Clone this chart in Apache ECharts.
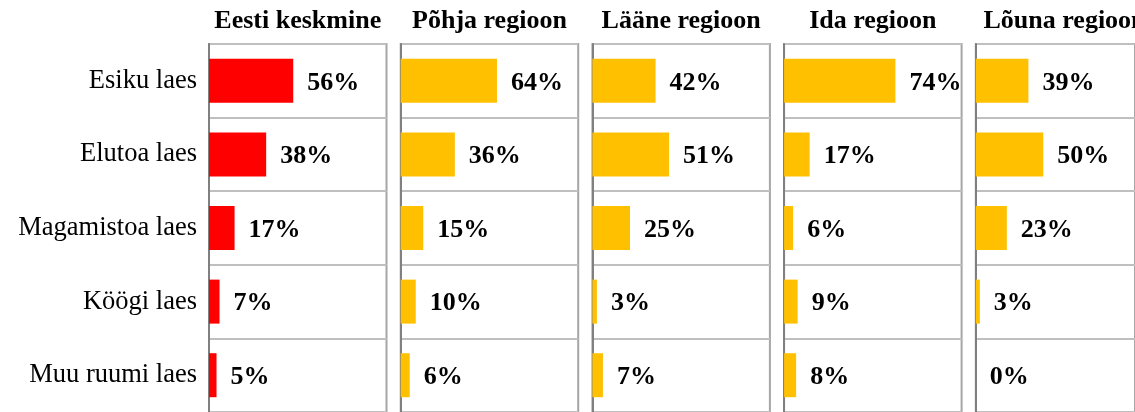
<!DOCTYPE html>
<html>
<head>
<meta charset="utf-8">
<script src="https://cdn.jsdelivr.net/npm/echarts@6/dist/echarts.min.js"></script>
<style>
html,body{margin:0;padding:0;background:#fff;}
#chart{width:1135px;height:412px;}
</style>
</head>
<body>
<div id="chart"></div>
<script>
const categories = ['Esiku laes', 'Elutoa laes', 'Magamistoa laes', 'Köögi laes', 'Muu ruumi laes'];
const panelTitles = ['Eesti keskmine', 'Põhja regioon', 'Lääne regioon', 'Ida regioon', 'Lõuna regioon'];
const eestiKeskmine = [56, 38, 17, 7, 5];
const pohjaRegioon = [64, 36, 15, 10, 6];
const laaneRegioon = [42, 51, 25, 3, 7];
const idaRegioon = [74, 17, 6, 9, 8];
const lounaRegioon = [39, 50, 23, 3, 0];
const panelValues = [eestiKeskmine, pohjaRegioon, laaneRegioon, idaRegioon, lounaRegioon];
const panelColors = ['#FF0000', '#FFC000', '#FFC000', '#FFC000', '#FFC000'];

const FONT = '"Liberation Serif", "Times New Roman", serif';
const panelLeft0 = 209, panelStep = 191.7, panelWidth = 177.5;

const grids = [], xAxes = [], yAxes = [], series = [], titles = [];
panelValues.forEach((vals, i) => {
  const left = panelLeft0 + i * panelStep;
  grids.push({
    left: left, top: 44, width: panelWidth, height: 370,
    show: true, borderColor: '#a6a6a6', borderWidth: 2, backgroundColor: 'transparent'
  });
  xAxes.push({
    type: 'value', gridIndex: i, min: 0, max: 118,
    axisLabel: {show: false}, axisTick: {show: false}, axisLine: {show: false}, splitLine: {show: false}
  });
  yAxes.push({
    type: 'category', gridIndex: i, data: categories, inverse: true,
    axisTick: {show: false},
    axisLine: {show: true, lineStyle: {color: '#808080', width: 2}},
    splitLine: {show: true, lineStyle: {color: '#bfbfbf', width: 2}},
    axisLabel: {show: i === 0, margin: 12, color: '#000', fontFamily: FONT, fontSize: 26.5}
  });
  series.push({
    type: 'bar', xAxisIndex: i, yAxisIndex: i, data: vals,
    barWidth: 44, itemStyle: {color: panelColors[i]},
    label: {show: true, position: 'right', distance: 14, formatter: '{c}%', offset: [0, 2],
      color: '#000', fontFamily: FONT, fontSize: 26, fontWeight: 'bold'},
    animation: false
  });
  titles.push({
    text: panelTitles[i], left: left + panelWidth / 2, top: 8, textAlign: 'center', padding: 0,
    textStyle: {fontFamily: FONT, fontSize: 26, fontWeight: 'bold', color: '#000'}
  });
});

const chart = echarts.init(document.getElementById('chart'), null, {renderer: 'canvas'});
chart.setOption({
  animation: false,
  title: titles,
  grid: grids,
  xAxis: xAxes,
  yAxis: yAxes,
  series: series
});
</script>
</body>
</html>
